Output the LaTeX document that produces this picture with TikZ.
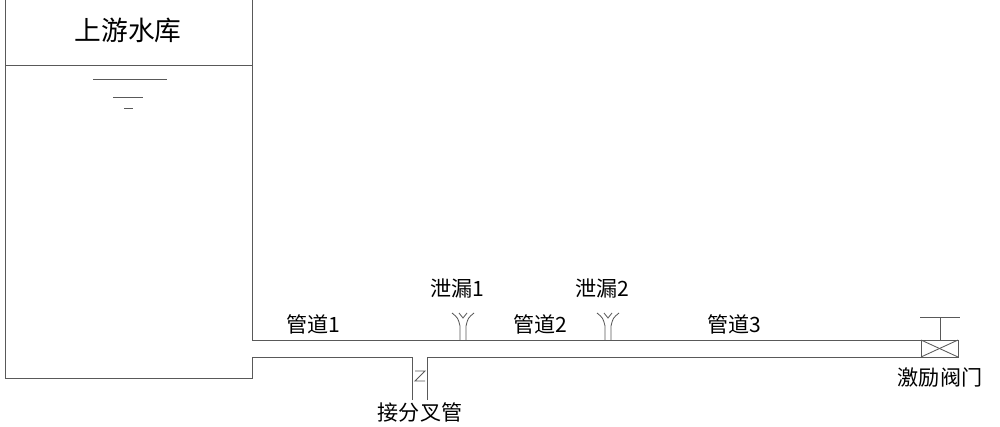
\documentclass[tikz,border=0pt]{standalone}
\usepackage{fontspec}
\setmainfont{Liberation Serif}
\newfontfamily\cjk{Noto Sans CJK SC}
\begin{document}
\begin{tikzpicture}[x=0.025cm,y=-0.025cm]
	\tikzstyle {pipe line} = [line width=0.6pt, gray!70!black]
	\tikzstyle {label text} = [font=\cjk\fontsize{15}{17}\selectfont, inner sep=0pt]
	\useasboundingbox (0,0) rectangle (1000,427);

	% reservoir
	\draw[pipe line] (5,0) -- (5,378) -- (252,378) -- (252,357);
	\draw[pipe line] (252,0) -- (252,340);
	\draw[pipe line] (5,65) -- (252,65);
	\draw[pipe line] (93,79) -- (167,79);
	\draw[pipe line] (113,97) -- (143,97);
	\draw[pipe line] (124,108) -- (133,108);
	\node[label text, font=\cjk\fontsize{19}{21}\selectfont] (res) at (128,30) {上游水库};

	% pipes
	\draw[pipe line] (252,340) -- (921,340);
	\draw[pipe line] (252,357) -- (412,357);
	\draw[pipe line] (427,357) -- (921,357);

	% branch
	\draw[pipe line] (412,357) -- (412,400);
	\draw[pipe line] (427,357) -- (427,400);
	\draw[pipe line] (415,371) -- (425,371) -- (415,381) -- (425,381);
	\node[label text] (branch) at (420,412) {接分叉管};

	% leaks
	\foreach \lx/\name in {463/泄漏1, 608/泄漏2} {
		\draw[pipe line] (\lx-3,340) -- (\lx-3,326) .. controls (\lx-5,318) .. (\lx-11,313);
		\draw[pipe line] (\lx+3,340) -- (\lx+3,326) .. controls (\lx+5,318) .. (\lx+11,313);
		\draw[pipe line] (\lx-4,313) -- (\lx,318) -- (\lx+4,313);
		\node[label text] at (\lx-6,288) {\name};
	}

	\node[label text] (p1) at (313,324) {管道1};
	\node[label text] (p2) at (540,324) {管道2};
	\node[label text] (p3) at (734,324) {管道3};

	% valve
	\draw[pipe line] (921,340) rectangle (958,357);
	\draw[pipe line] (921,340) -- (958,357);
	\draw[pipe line] (921,357) -- (958,340);
	\draw[pipe line] (940,340) -- (940,317);
	\draw[pipe line] (920,317) -- (960,317);
	\node[label text] (valve) at (940,378) {激励阀门};
\end{tikzpicture}
\end{document}
